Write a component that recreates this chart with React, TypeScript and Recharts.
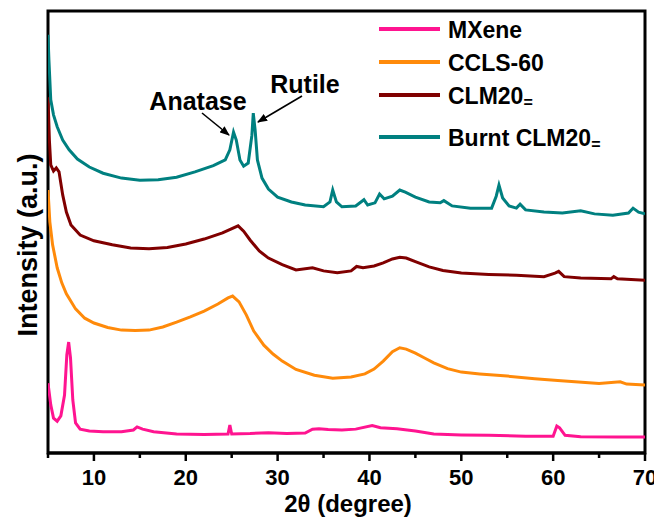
import { LineChart, Line, XAxis, YAxis, ReferenceArea } from 'recharts'

// 2θ (degree), intensity (a.u., curves already offset for stacking)
const mxene = [
  [5.0, 15.8], [5.3, 10.9], [5.6, 7.9], [6.0, 7.2], [6.4, 8.4], [6.8, 13.1], [7.05, 22.2], [7.25, 25.1],
  [7.45, 21.5], [7.7, 12.0], [8.0, 6.8], [8.5, 5.4], [9.5, 5.0], [11, 4.8], [13, 4.8], [14.3, 5.2],
  [14.7, 5.9], [15.3, 5.4], [16.5, 4.8], [19, 4.3], [22, 4.2], [24.6, 4.3], [24.8, 6.3], [25.0, 4.3],
  [27, 4.4], [29, 4.6], [31, 4.4], [33, 4.5], [33.8, 5.4], [34.5, 5.5], [35.5, 5.3], [37, 5.2],
  [38.5, 5.4], [40.3, 6.2], [41.2, 5.7], [43, 5.5], [45, 5.0], [47, 4.3], [50, 4.1], [53, 4.0],
  [57, 3.8], [60, 3.8], [60.4, 6.1], [60.7, 5.7], [61.3, 4.0], [63, 3.7], [67, 3.6], [70, 3.6],
]

const ccls60 = [
  [5.0, 59.5], [5.2, 52.3], [5.5, 47.1], [6.0, 41.9], [6.5, 38.5], [7.0, 36.0], [8.0, 32.6], [9.0, 30.5],
  [10, 29.4], [11.5, 28.4], [13, 27.8], [14.5, 27.7], [16, 27.8], [17.5, 28.5], [19, 29.6], [20.5, 30.8],
  [22, 32.1], [23.5, 33.7], [24.6, 35.1], [25.1, 35.5], [25.8, 34.2], [26.6, 31.2], [27.4, 27.6],
  [28.5, 24.4], [29.5, 22.4], [30.5, 20.8], [32, 18.9], [34, 17.6], [36, 16.9], [38, 17.2], [39.5, 17.9],
  [40.5, 19.0], [41.5, 20.8], [42.5, 22.9], [43.3, 23.8], [44, 23.5], [45, 22.6], [46, 21.5], [47, 20.4],
  [48.5, 19.1], [50, 18.3], [52, 17.9], [55, 17.4], [58, 16.8], [60.5, 16.4], [62, 16.2], [65, 15.7],
  [67.3, 16.1], [68, 15.6], [70, 15.4],
]

const clm20 = [
  [5.0, 80.5], [5.15, 70.8], [5.3, 65.2], [5.6, 63.8], [5.9, 64.5], [6.2, 63.6], [6.6, 58.4], [7.0, 54.5],
  [7.5, 51.6], [8.5, 49.3], [10, 48.0], [12, 47.1], [14, 46.4], [16, 46.2], [18, 46.5], [20, 47.3],
  [22, 48.4], [24, 49.8], [25.7, 51.4], [26.3, 50.2], [27, 48.2], [28, 45.7], [29, 44.1], [30.5, 42.6],
  [32, 41.4], [33.8, 41.9], [35, 41.2], [36.5, 40.8], [38, 41.2], [38.6, 42.2], [39.3, 41.9], [40.5, 42.3],
  [41.5, 43.0], [42.5, 43.9], [43.3, 44.3], [44, 44.1], [45, 43.3], [46.5, 42.1], [48, 41.3], [50, 40.7],
  [53, 40.4], [56, 40.2], [59, 39.9], [60.2, 40.7], [60.6, 41.1], [61.2, 39.9], [63, 39.6], [66.3, 39.4],
  [66.6, 39.9], [67, 39.4], [70, 39.1],
]

const burntClm20 = [
  [5.0, 94.6], [5.1, 88.9], [5.3, 79.9], [5.6, 76.5], [6.0, 73.8], [6.6, 70.8], [7.3, 68.6], [8.2, 66.5],
  [9.5, 64.7], [11, 63.3], [13, 62.2], [15, 61.7], [17, 61.8], [19, 62.4], [21, 63.6], [23, 65.0],
  [24.3, 66.3], [24.8, 68.6], [25.2, 72.6], [25.5, 70.8], [25.9, 66.3], [26.3, 64.9], [26.8, 65.6],
  [27.2, 71.9], [27.35, 76.9], [27.55, 73.1], [27.8, 66.3], [28.3, 62.2], [29, 59.7], [30, 57.9],
  [31.5, 56.8], [33, 56.1], [35, 55.7], [35.7, 56.8], [36.0, 59.5], [36.4, 56.8], [37, 55.7], [38.5, 55.9],
  [39.4, 57.3], [39.8, 56.1], [40.6, 56.6], [41.1, 58.6], [41.6, 57.5], [42.5, 58.1], [43.3, 59.5],
  [43.9, 59.0], [45, 57.9], [46.5, 56.8], [47.7, 56.6], [48.1, 57.1], [49, 55.9], [51, 55.4], [53.3, 55.4],
  [53.8, 58.1], [54.1, 60.6], [54.5, 57.7], [55.2, 55.9], [56.0, 55.4], [56.4, 56.3], [57, 55.0], [59, 54.5],
  [61, 54.3], [63, 54.8], [64.5, 54.1], [66.5, 53.8], [68.2, 54.3], [68.7, 55.4], [69.3, 54.5], [70, 54.1],
]

const xTicks = [5, 10, 15, 20, 25, 30, 35, 40, 45, 50, 55, 60, 65, 70]

const series = [
  { name: 'MXene', sub: '', color: '#ff1490', points: mxene },
  { name: 'CCLS-60', sub: '', color: '#ff8a0a', points: ccls60 },
  { name: 'CLM20', sub: '=', color: '#800000', points: clm20 },
  { name: 'Burnt CLM20', sub: '=', color: '#008080', points: burntClm20 },
]

const font = 'Liberation Sans, Arial, Helvetica, sans-serif'

const AxisTick = (props: any) => {
  const { x, y, payload } = props
  const major = payload.value % 10 === 0
  return (
    <g>
      <line x1={x} x2={x} y1={y} y2={y + (major ? 8 : 5)} stroke="#000" strokeWidth={2.5} />
      {major && (
        <text x={x} y={y + 32} textAnchor="middle" fontSize={22} fontWeight="bold" fontFamily={font} fill="#000">
          {payload.value}
        </text>
      )}
    </g>
  )
}

export default function App() {
  const legendY = [21, 54, 87, 129]

  return (
    <div style={{ position: 'relative', width: 654, height: 509 }}>
      <LineChart width={654} height={509} margin={{ top: 3, right: 17, bottom: 0, left: 40 }}>
        <XAxis
          type="number"
          dataKey="x"
          domain={[5, 70]}
          ticks={xTicks}
          interval={0}
          tick={<AxisTick />}
          tickSize={0}
          tickMargin={0}
          tickLine={false}
          height={64}
          axisLine={{ stroke: '#000', strokeWidth: 3 }}
          allowDataOverflow
        />
        <YAxis type="number" domain={[0, 100]} hide allowDataOverflow />
        <ReferenceArea x1={5} x2={70} y1={0} y2={100} fill="none" fillOpacity={0} stroke="#000" strokeWidth={3} />
        {series.map((s) => (
          <Line
            key={s.name}
            data={s.points.map(([x, y]) => ({ x, y }))}
            dataKey="y"
            name={s.name}
            type="linear"
            stroke={s.color}
            strokeWidth={3}
            dot={false}
            activeDot={false}
            isAnimationActive={false}
          />
        ))}
      </LineChart>

      <svg
        width={654}
        height={509}
        style={{ position: 'absolute', left: 0, top: 0, pointerEvents: 'none' }}
        fontFamily={font}
        fontWeight="bold"
      >
        <defs>
          <marker id="arrow" markerWidth="10" markerHeight="8" refX="9" refY="4" orient="auto" markerUnits="userSpaceOnUse">
            <path d="M0,0 L10,4 L0,8 z" fill="#000" />
          </marker>
        </defs>

        {/* legend */}
        {series.map((s, i) => (
          <g key={s.name}>
            <line x1={371} x2={432} y1={legendY[i]} y2={legendY[i]} stroke={s.color} strokeWidth={4} />
            <text x={440} y={legendY[i] + 9} fontSize={23} fill="#000">
              {s.name}
              {s.sub && (
                <tspan fontSize={16} dy={4}>
                  {s.sub}
                </tspan>
              )}
            </text>
          </g>
        ))}

        {/* phase annotations */}
        <text x={190} y={102} fontSize={25} textAnchor="middle" fill="#000">Anatase</text>
        <line x1={194} y1={105} x2={221} y2={127} stroke="#000" strokeWidth={1.6} markerEnd="url(#arrow)" />
        <text x={297} y={85} fontSize={25} textAnchor="middle" fill="#000">Rutile</text>
        <line x1={294} y1={88} x2={250} y2={114} stroke="#000" strokeWidth={1.6} markerEnd="url(#arrow)" />

        {/* axis titles */}
        <text x={340} y={504} fontSize={24} textAnchor="middle" fill="#000">2θ (degree)</text>
        <text x={29} y={237} fontSize={27} textAnchor="middle" fill="#000" transform="rotate(-90, 29, 237)">
          Intensity (a.u.)
        </text>
      </svg>
    </div>
  )
}
